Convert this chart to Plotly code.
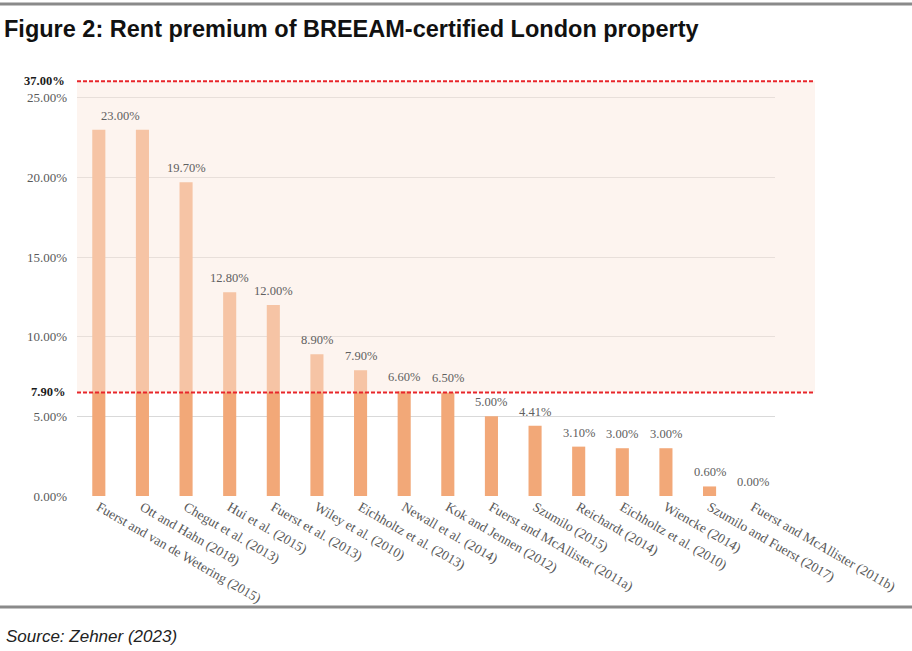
import plotly.graph_objects as go

categories = [
    "Fuerst and van de Wetering (2015)", "Ott and Hahn (2018)", "Chegut et al. (2013)",
    "Hui et al. (2015)", "Fuerst et al. (2013)", "Wiley et al. (2010)",
    "Eichholtz et al. (2013)", "Newall et al. (2014)", "Kok and Jennen (2012)",
    "Fuerst and McAllister (2011a)", "Szumilo (2015)", "Reichardt (2014)",
    "Eichholtz et al. (2010)", "Wiencke (2014)", "Szumilo and Fuerst (2017)",
    "Fuerst and McAllister (2011b)",
]
premium = [23.0, 23.0, 19.7, 12.8, 12.0, 8.9, 7.9, 6.6, 6.5, 5.0, 4.41, 3.1, 3.0, 3.0, 0.6, 0.0]
show_label = [True, False] + [True] * 14
tick_vals = [0, 5, 10, 15, 20, 25]
tick_text = ["0.00%", "5.00%", "10.00%", "15.00%", "20.00%", "25.00%"]
band_labels = ["37.00%", "7.90%"]

TITLE = "Figure 2: Rent premium of BREEAM-certified London property"
SOURCE = "Source: Zehner (2023)"

W, H = 912, 651
L, R, T, B = 77, 137, 66, 155
PW, PH = W - L - R, H - T - B

def px(x):
    return (x - L) / PW

def py(y):
    return (H - B - y) / PH

band_top, band_bottom = 26.05, 6.5

fig = go.Figure()
fig.add_trace(go.Bar(
    x=categories, y=premium,
    marker=dict(color="#F2A878", line=dict(width=0)),
    hoverinfo="skip",
))

annotations = []
for i, (c, v) in enumerate(zip(categories, premium)):
    if not show_label[i]:
        continue
    annotations.append(dict(
        x=c, y=v, xref="x", yref="y", text=f"{v:.2f}%", showarrow=False,
        yanchor="middle", yshift=14, xshift=22 if i == 0 else 0,
        font=dict(family="Liberation Serif", size=12.5, color="#606060"),
    ))

for txt, yv in zip(band_labels, [band_top, band_bottom]):
    annotations.append(dict(
        x=px(67), y=yv, xref="paper", yref="y", text=f"<b>{txt}</b>", showarrow=False,
        xanchor="right", yanchor="middle",
        font=dict(family="Liberation Serif", size=12.5, color="#1a1a1a"),
    ))

annotations.append(dict(
    x=px(4), y=py(636), xref="paper", yref="paper", text=f"<i>{SOURCE}</i>",
    showarrow=False, xanchor="left", yanchor="middle",
    font=dict(family="Liberation Sans", size=17, color="#222222"),
))

shapes = [
    dict(type="rect", xref="paper", yref="y", x0=0, x1=px(815), y0=band_bottom, y1=band_top,
         fillcolor="rgba(250,230,219,0.45)", line=dict(width=0), layer="above"),
    dict(type="line", xref="paper", yref="y", x0=0, x1=px(815), y0=band_top, y1=band_top,
         line=dict(color="#E8262B", width=2, dash="4px,2px"), layer="above"),
    dict(type="line", xref="paper", yref="y", x0=0, x1=px(815), y0=band_bottom, y1=band_bottom,
         line=dict(color="#E8262B", width=2, dash="4px,2px"), layer="above"),
    dict(type="line", xref="paper", yref="paper", x0=px(0), x1=px(W), y0=py(4), y1=py(4),
         line=dict(color="#8a8a8a", width=3)),
    dict(type="line", xref="paper", yref="paper", x0=px(0), x1=px(W), y0=py(607), y1=py(607),
         line=dict(color="#8a8a8a", width=3)),
]

fig.update_layout(
    width=W, height=H,
    margin=dict(l=L, r=R, t=T, b=B, autoexpand=False),
    paper_bgcolor="white", plot_bgcolor="white",
    bargap=0.7, showlegend=False,
    title=dict(text=f"<b>{TITLE}</b>", x=4 / W, xanchor="left", xref="container",
               y=1 - 29 / H, yanchor="middle", yref="container",
               font=dict(family="Liberation Sans", size=23.5, color="#111111")),
    annotations=annotations, shapes=shapes,
    xaxis=dict(tickangle=30, showgrid=False, showline=False, zeroline=False, ticks="",
               tickfont=dict(family="Liberation Serif", size=13.5, color="#595959")),
    yaxis=dict(range=[0, 27], tickvals=tick_vals, ticktext=tick_text,
               showgrid=True, gridcolor="#d9d9d9", gridwidth=1, zeroline=False,
               showline=False, ticks="", ticklabelstandoff=9,
               tickfont=dict(family="Liberation Serif", size=13, color="#595959")),
)

fig.write_html(
    "out.html",
    config={"displayModeBar": False},
    post_script="document.body.style.margin='0';document.body.style.overflow='hidden';",
)
